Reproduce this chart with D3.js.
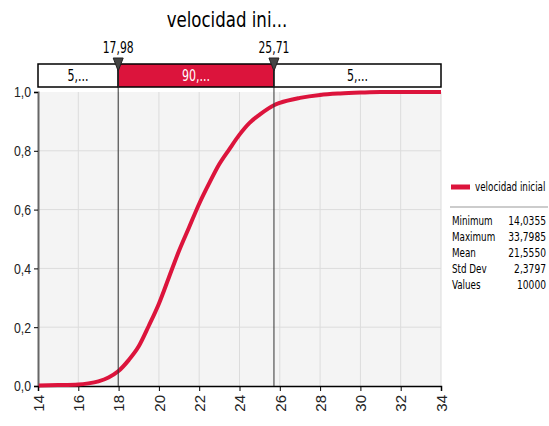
<!DOCTYPE html>
<html>
<head>
<meta charset="utf-8">
<script src="https://cdn.jsdelivr.net/npm/d3@7"></script>
<style>
  body { margin: 0; background: #fff; }
  svg { font-family: "DejaVu Sans Condensed", "DejaVu Sans", sans-serif; }
</style>
</head>
<body>
<svg width="549" height="426"></svg>
<script>
// cumulative curve
var xValues = [14.04, 15, 16, 16.5, 17, 17.5, 17.98, 18.5, 19, 19.5, 20, 20.5, 21, 21.5, 22, 22.5, 23, 23.5, 24, 24.5, 25, 25.71, 26, 27, 28, 29, 30, 31, 33.8, 34];
var cumProb = [0.002, 0.003, 0.005, 0.009, 0.016, 0.029, 0.05, 0.088, 0.135, 0.205, 0.28, 0.37, 0.46, 0.54, 0.62, 0.69, 0.755, 0.806, 0.855, 0.895, 0.923, 0.955, 0.963, 0.98, 0.99, 0.995, 0.998, 1, 1, 1];
var xTicks = [14, 16, 18, 20, 22, 24, 26, 28, 30, 32, 34];
var yTicks = [0, 0.2, 0.4, 0.6, 0.8, 1.0];
var markers = [17.98, 25.71];
var bandLabels = ['5,...', '90,...', '5,...'];
var statNames = ['Minimum', 'Maximum', 'Mean', 'Std Dev', 'Values'];
var statValues = ['14,0355', '33,7985', '21,5550', '2,3797', '10000'];
var seriesName = 'velocidad inicial';
var title = 'velocidad ini...';

var red = '#dc143c';
var svg = d3.select('svg');
var padding = {t: 92, r: 108, b: 40, l: 38};
var plotW = 549 - padding.l - padding.r;
var plotH = 426 - padding.t - padding.b;

var xScale = d3.scaleLinear().domain([14, 34]).range([padding.l, padding.l + plotW]);
var yScale = d3.scaleLinear().domain([0, 1]).range([padding.t + plotH, padding.t]);
var comma = function(d) { return d3.format('.1f')(d).replace('.', ','); };

// squeeze text horizontally around its anchor, the original uses a narrow font
function narrow(sel, k) {
    sel.each(function() {
        var x = +d3.select(this).attr('x') || 0;
        d3.select(this).attr('transform',
            'translate(' + x + ',0) scale(' + k + ',1) translate(' + (-x) + ',0)');
    });
}

// title
svg.append('text')
    .attr('x', 227).attr('y', 27)
    .attr('text-anchor', 'middle')
    .style('font-size', '22px')
    .text(title)
    .call(narrow, 0.84);

// plot background
svg.append('rect')
    .attr('x', padding.l).attr('y', padding.t)
    .attr('width', plotW).attr('height', plotH)
    .attr('fill', '#f4f4f4');

// grid
svg.append('g').selectAll('line').data(xTicks.slice(1))
    .enter().append('line')
    .attr('x1', function(d) { return xScale(d); })
    .attr('x2', function(d) { return xScale(d); })
    .attr('y1', padding.t).attr('y2', padding.t + plotH)
    .attr('stroke', '#dcdcdc');
svg.append('g').selectAll('line').data(yTicks.slice(1, -1))
    .enter().append('line')
    .attr('x1', padding.l).attr('x2', padding.l + plotW)
    .attr('y1', function(d) { return yScale(d); })
    .attr('y2', function(d) { return yScale(d); })
    .attr('stroke', '#dcdcdc');

// axes
var yAxis = svg.append('g')
    .attr('transform', 'translate(' + padding.l + ',0)')
    .call(d3.axisLeft(yScale).tickValues(yTicks).tickFormat(comma).tickSize(4));
yAxis.select('.domain').attr('stroke', '#666').attr('stroke-width', 2);
yAxis.selectAll('text').style('font-size', '15px').style('font-family', 'inherit').attr('fill', '#222')
    .call(narrow, 0.82);

var xAxis = svg.append('g')
    .attr('transform', 'translate(0,' + (padding.t + plotH) + ')')
    .call(d3.axisBottom(xScale).tickValues(xTicks).tickSize(5));
xAxis.select('.domain').attr('stroke', '#000').attr('stroke-width', 1.5);
xAxis.selectAll('text')
    .style('font-size', '15px').style('font-family', 'inherit').attr('fill', '#222')
    .attr('transform', 'rotate(-90)')
    .attr('text-anchor', 'end')
    .attr('x', -9).attr('y', 0).attr('dy', '0.35em');

// curve
var line = d3.line()
    .x(function(d, i) { return xScale(d); })
    .y(function(d, i) { return yScale(cumProb[i]); })
    .curve(d3.curveMonotoneX);
svg.append('path')
    .attr('d', line(xValues))
    .attr('fill', 'none')
    .attr('stroke', red)
    .attr('stroke-width', 4);

// top band
var bandY = 64, bandH = 23;
var edges = [14].concat(markers).concat([34]);
svg.append('g').selectAll('rect').data(bandLabels)
    .enter().append('rect')
    .attr('x', function(d, i) { return xScale(edges[i]); })
    .attr('width', function(d, i) { return xScale(edges[i + 1]) - xScale(edges[i]); })
    .attr('y', bandY).attr('height', bandH)
    .attr('fill', function(d, i) { return i === 1 ? red : '#fff'; })
    .attr('stroke', '#000').attr('stroke-width', 1.5);
svg.append('g').selectAll('text').data(bandLabels)
    .enter().append('text')
    .attr('x', function(d, i) { return (xScale(edges[i]) + xScale(edges[i + 1])) / 2; })
    .attr('y', bandY + 17)
    .attr('text-anchor', 'middle')
    .attr('fill', function(d, i) { return i === 1 ? '#fff' : '#000'; })
    .style('font-size', '15px')
    .text(function(d) { return d; })
    .call(narrow, 0.82);

// markers
var mk = svg.append('g').selectAll('g').data(markers).enter().append('g')
    .attr('transform', function(d) { return 'translate(' + xScale(d) + ',0)'; });
mk.append('line')
    .attr('y1', 60).attr('y2', padding.t + plotH)
    .attr('stroke', '#333').attr('stroke-width', 1);
mk.append('path')
    .attr('d', 'M-5,58L5,58L0,71Z')
    .attr('fill', '#444').attr('stroke', '#222');
mk.append('text')
    .attr('y', 53).attr('text-anchor', 'middle')
    .style('font-size', '15px')
    .text(function(d) { return d3.format('.2f')(d).replace('.', ','); })
    .call(narrow, 0.8);

// legend
svg.append('line')
    .attr('x1', 451).attr('x2', 470).attr('y1', 187).attr('y2', 187)
    .attr('stroke', red).attr('stroke-width', 5);
svg.append('text')
    .attr('x', 475).attr('y', 191)
    .style('font-size', '13px')
    .text(seriesName)
    .call(narrow, 0.75);
svg.append('line')
    .attr('x1', 450).attr('x2', 548).attr('y1', 207).attr('y2', 207)
    .attr('stroke', '#999');
var rows = svg.append('g').selectAll('g').data(statNames).enter().append('g')
    .attr('transform', function(d, i) { return 'translate(0,' + (225 + i * 16) + ')'; });
rows.append('text').attr('x', 452).style('font-size', '13px').text(function(d) { return d; })
    .call(narrow, 0.75);
rows.append('text').attr('x', 546).attr('text-anchor', 'end').style('font-size', '13px')
    .text(function(d, i) { return statValues[i]; })
    .call(narrow, 0.78);
</script>
</body>
</html>
